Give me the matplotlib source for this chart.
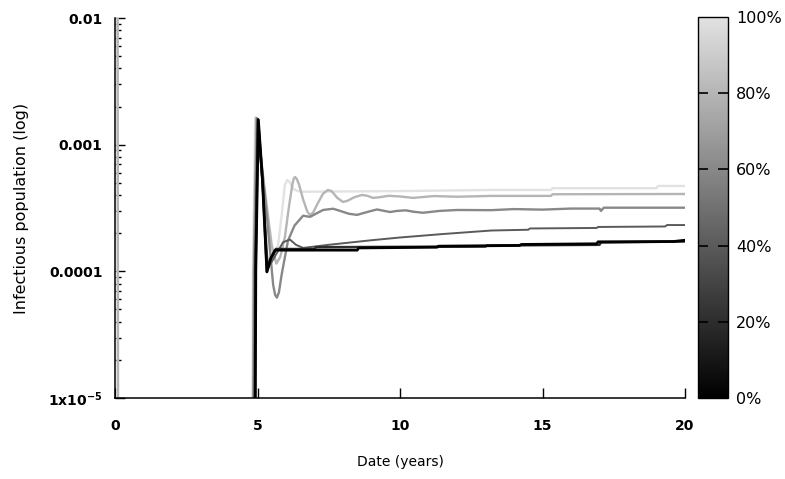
import matplotlib
matplotlib.use("Agg")
import matplotlib.pyplot as plt
from matplotlib.colors import LinearSegmentedColormap, Normalize
from matplotlib.cm import ScalarMappable

# ---------------- data ----------------
shade_a = 100
t_a = [0.08, 0.10, 4.80, 4.84, 4.92, 5.20, 5.40, 5.55, 5.72, 5.85, 5.96, 6.04, 6.12, 6.25, 6.40, 6.60,
       8.0, 10.0, 13.2, 15.3, 15.35, 19.0, 19.05, 20.0]
y_a = [5e-2, 1e-8, 1e-7, 1e-4, 1.65e-3, 5.0e-4, 2.0e-4, 1.35e-4, 1.6e-4, 2.8e-4, 4.8e-4, 5.26e-4, 5.1e-4,
       4.5e-4, 4.3e-4, 4.25e-4, 4.27e-4, 4.30e-4, 4.39e-4, 4.39e-4, 4.53e-4, 4.53e-4, 4.72e-4, 4.72e-4]

shade_b = 80
t_b = [0.09, 0.12, 4.81, 4.86, 4.95, 5.25, 5.50, 5.66, 5.80, 5.96, 6.10, 6.22, 6.27, 6.32, 6.38, 6.45,
       6.60, 6.75, 6.84, 6.95, 7.10, 7.30, 7.47, 7.60, 7.80, 8.00, 8.15, 8.40, 8.67, 8.85, 9.05,
       9.30, 9.60, 10.0, 10.46, 11.2, 12.0, 13.2, 15.3, 15.35, 20.0]
y_b = [5e-2, 1e-8, 1e-7, 1e-4, 1.62e-3, 4.5e-4, 1.6e-4, 1.15e-4, 1.3e-4, 1.85e-4, 3.2e-4, 4.8e-4, 5.4e-4,
       5.56e-4, 5.35e-4, 4.9e-4, 3.7e-4, 2.95e-4, 2.79e-4, 2.9e-4, 3.4e-4, 4.1e-4, 4.39e-4, 4.3e-4,
       3.8e-4, 3.53e-4, 3.6e-4, 3.85e-4, 4.01e-4, 3.95e-4, 3.80e-4, 3.85e-4, 3.95e-4, 3.90e-4,
       3.80e-4, 3.93e-4, 3.88e-4, 3.94e-4, 3.94e-4, 4.06e-4, 4.08e-4]

shade_c = 60
t_c = [4.83, 4.88, 4.98, 5.30, 5.55, 5.62, 5.68, 5.75, 5.85, 6.07, 6.30, 6.60, 6.84, 7.05, 7.30, 7.65,
       7.90, 8.20, 8.49, 8.80, 9.19, 9.45, 9.65, 9.90, 10.2, 10.5, 10.81, 11.1, 11.4, 12.0, 13.2,
       14.0, 15.0, 16.0, 17.0, 17.05, 17.15, 20.0]
y_c = [1e-7, 1e-4, 1.62e-3, 3.2e-4, 7.8e-5, 6.5e-5, 6.2e-5, 6.8e-5, 9.5e-5, 1.75e-4, 2.3e-4, 2.75e-4,
       2.69e-4, 2.85e-4, 3.05e-4, 3.12e-4, 3.0e-4, 2.85e-4, 2.79e-4, 2.92e-4, 3.08e-4, 3.0e-4,
       2.94e-4, 3.0e-4, 3.03e-4, 2.95e-4, 2.90e-4, 2.95e-4, 3.00e-4, 3.05e-4, 3.04e-4, 3.10e-4,
       3.07e-4, 3.13e-4, 3.13e-4, 3.00e-4, 3.18e-4, 3.18e-4]

shade_d = 40
t_d = [4.86, 4.91, 5.00, 5.20, 5.37, 5.60, 5.90, 6.14, 6.35, 6.60, 7.5, 9.0, 10.0, 11.5, 13.2, 14.5,
       14.56, 16.9, 16.95, 19.3, 19.37, 20.0]
y_d = [1e-7, 1e-4, 1.60e-3, 4.0e-4, 1.06e-4, 1.3e-4, 1.70e-4, 1.78e-4, 1.62e-4, 1.53e-4, 1.62e-4,
       1.76e-4, 1.85e-4, 1.97e-4, 2.10e-4, 2.13e-4, 2.18e-4, 2.20e-4, 2.24e-4, 2.26e-4, 2.32e-4, 2.32e-4]

shade_e = 20
t_e = [4.88, 4.93, 5.02, 5.18, 5.33, 5.50, 5.65, 7.0, 7.05, 13.0, 13.05, 17.0, 17.05, 20.0]
y_e = [1e-7, 1e-4, 1.58e-3, 5.0e-4, 1.0e-4, 1.3e-4, 1.50e-4, 1.50e-4, 1.55e-4, 1.57e-4, 1.60e-4,
       1.62e-4, 1.69e-4, 1.72e-4]

shade_f = 0
t_f = [4.89, 4.94, 5.03, 5.17, 5.33, 5.45, 5.62, 8.5, 8.55, 11.3, 11.35, 14.2, 14.25, 16.9, 16.95, 19.6, 20.0]
y_f = [1e-7, 1e-4, 1.57e-3, 5.5e-4, 9.9e-5, 1.25e-4, 1.47e-4, 1.47e-4, 1.53e-4, 1.55e-4, 1.58e-4,
       1.60e-4, 1.63e-4, 1.65e-4, 1.71e-4, 1.72e-4, 1.76e-4]

y_ticks = [1e-5, 1e-4, 1e-3, 1e-2]
y_tick_labels = ["1x10$^{\\mathbf{-5}}$", "0.0001", "0.001", "0.01"]
x_ticks = [0, 5, 10, 15, 20]
cbar_ticks = [0, 20, 40, 60, 80, 100]

# ---------------- figure ----------------
plt.rcParams["font.family"] = ["DejaVu Sans"]

W, H = 785, 479
fig = plt.figure(figsize=(W / 100, H / 100), dpi=100)
ax = fig.add_axes([115 / W, 1 - 398 / H, 570 / W, 380 / H])

cmap = LinearSegmentedColormap.from_list("bw", ["#000000", "#e2e2e2"])
norm = Normalize(0, 100)

series = [
    (t_a, y_a, shade_a, 1.7),
    (t_b, y_b, shade_b, 1.7),
    (t_c, y_c, shade_c, 1.7),
    (t_d, y_d, shade_d, 1.4),
    (t_e, y_e, shade_e, 1.8),
    (t_f, y_f, shade_f, 2.0),
]
for t, y, s, lw in series:
    ax.plot(t, y, color=cmap(norm(s)), lw=lw, solid_joinstyle="round", solid_capstyle="round")

ax.set_yscale("log")
ax.set_xlim(0, 20)
ax.set_ylim(1e-5, 1e-2)
ax.set_yticks(y_ticks)
ax.set_yticklabels(y_tick_labels, fontweight="bold")
ax.set_xticks(x_ticks)
ax.set_xticklabels([str(v) for v in x_ticks], fontweight="bold")

for side in ["top", "right"]:
    ax.spines[side].set_visible(False)
for side in ["left", "bottom"]:
    ax.spines[side].set_linewidth(1.1)

ax.tick_params(axis="both", which="major", direction="in", length=7, width=1.0,
               labelsize=10, top=False, right=False)
ax.tick_params(axis="y", which="minor", direction="in", length=4.5, width=1.0, right=False)
ax.tick_params(axis="y", which="major", pad=9)
ax.tick_params(axis="x", which="major", pad=15)

ax.set_xlabel("Date (years)", fontsize=10, labelpad=16)
ax.set_ylabel("Infectious population (log)", fontsize=11.5, labelpad=14)

# colorbar
cax = fig.add_axes([698 / W, 1 - 398 / H, 30 / W, 381 / H])
sm = ScalarMappable(norm=norm, cmap=cmap)
cb = fig.colorbar(sm, cax=cax, ticks=cbar_ticks)
cb.ax.set_yticklabels([f"{v}%" for v in cbar_ticks])
cb.outline.set_linewidth(1.0)
cb.ax.tick_params(direction="in", length=7, width=1.2, left=True, right=True,
                  labelsize=11.5, pad=6, color="black")
for idx in (0, -1):
    tk = cb.ax.yaxis.get_major_ticks()[idx]
    tk.tick1line.set_visible(False)
    tk.tick2line.set_visible(False)

fig.savefig("out.png", dpi=100, facecolor="white")
